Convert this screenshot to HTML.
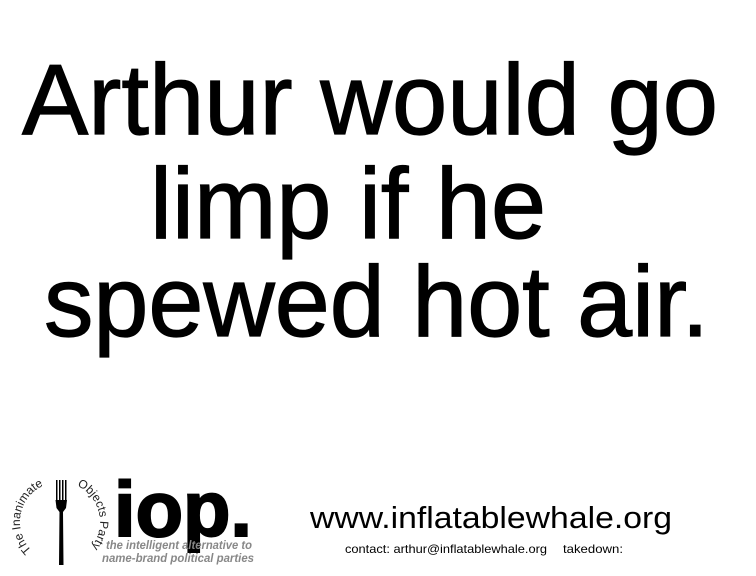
<!DOCTYPE html>
<html><head><meta charset="utf-8"><style>
html,body{margin:0;padding:0;background:#fff;}
svg{display:block;}
text{font-family:"Liberation Sans",Arial,sans-serif;}
</style></head><body>
<svg width="756" height="576" viewBox="0 0 756 576">
<rect width="756" height="576" fill="#fff"/>
<g fill="#000" stroke="#000" stroke-width="1.2">
<text x="22" y="134" font-size="100" textLength="696" lengthAdjust="spacingAndGlyphs">Arthur would go</text>
<text x="150" y="238" font-size="100" textLength="396" lengthAdjust="spacingAndGlyphs">limp if he</text>
<text x="44" y="336" font-size="100" textLength="665" lengthAdjust="spacingAndGlyphs">spewed hot air.</text>
</g>

<g>
  <defs>
    <path id="arcL" d="M 31.7 550.3 A 40 40 0 0 1 46.3 484.4"/>
    <path id="arcR" d="M 76.9 485.7 A 40 40 0 0 1 80 556.6"/>
  </defs>
  <text font-size="12" fill="#222"><textPath href="#arcL">The Inanimate</textPath></text>
  <text font-size="12" fill="#222"><textPath href="#arcR">Objects Party</textPath></text>
  <g fill="#000">
    <rect x="56" y="480" width="1.5" height="22"/>
    <rect x="59" y="480" width="1.5" height="22"/>
    <rect x="62" y="480" width="1.5" height="22"/>
    <rect x="65" y="480" width="1.5" height="22"/>
    <path d="M55.5 500 L67 500 L66 508 L63 512 L63.5 565 L59 565 L59.5 512 L56.5 508 Z"/>
  </g>
  <text x="114" y="536" font-size="78" font-weight="bold" fill="#000" stroke="#000" stroke-width="2" textLength="138" lengthAdjust="spacingAndGlyphs">iop.</text>
  <text x="106" y="549" font-size="11.5" font-style="italic" font-weight="bold" fill="#888" textLength="146" lengthAdjust="spacingAndGlyphs">the intelligent alternative to</text>
  <text x="102" y="562" font-size="11.5" font-style="italic" font-weight="bold" fill="#888" textLength="152" lengthAdjust="spacingAndGlyphs">name-brand political parties</text>
</g>

<text x="310" y="528" font-size="31" fill="#000" textLength="362" lengthAdjust="spacingAndGlyphs">www.inflatablewhale.org</text>
<text x="345" y="553" font-size="12" fill="#000" textLength="202" lengthAdjust="spacingAndGlyphs">contact: arthur@inflatablewhale.org</text>
<text x="563" y="553" font-size="12" fill="#000" textLength="60" lengthAdjust="spacingAndGlyphs">takedown:</text>
</svg>
</body></html>
